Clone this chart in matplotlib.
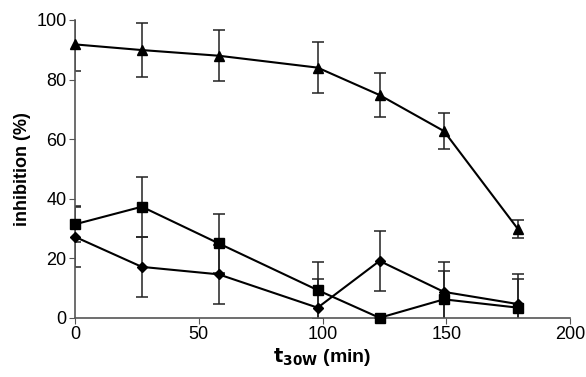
import matplotlib
matplotlib.use("Agg")
import matplotlib.pyplot as plt

plt.rcParams['font.family'] = ['Liberation Sans', 'DejaVu Sans']

# time points (min)
t = [0, 27, 58, 98, 123, 149, 179]

# triangles
tri = [91.8, 89.9, 88.0, 84.0, 74.8, 62.7, 29.7]
tri_err = [9, 9, 8.5, 8.5, 7.5, 6, 3]

# squares
sq = [31.4, 37.3, 25.0, 9.3, 0.0, 6.2, 3.4]
sq_err = [6, 10, 10, 9.6, 0, 9.6, 9.5]

# diamonds
dia = [27.2, 17.1, 14.6, 3.4, 19.1, 8.7, 4.6]
dia_err = [10, 10, 10, 9.5, 10, 10, 10]

fig = plt.figure(figsize=(5.86, 3.77), dpi=100)
ax = fig.add_axes([0.128, 0.157, 0.845, 0.79])

for y, e, m, ms in [(tri, tri_err, '^', 7.5), (sq, sq_err, 's', 7.5), (dia, dia_err, 'D', 5)]:
    # error bars are clipped at the axes, markers are not
    ax.errorbar(t, y, yerr=e, fmt='none', ecolor='#222222', elinewidth=1.1,
                capsize=4, capthick=1.1)
    ax.plot(t, y, color='black', lw=1.5, marker=m, ms=ms, clip_on=False, zorder=3)

ax.set_xlim(0, 200)
ax.set_ylim(0, 100)
ax.set_xticks([0, 50, 100, 150, 200])
ax.set_yticks([0, 20, 40, 60, 80, 100])
for s in ['top', 'right']:
    ax.spines[s].set_visible(False)
for s in ['left', 'bottom']:
    ax.spines[s].set_color('#555555')
    ax.spines[s].set_linewidth(1.2)
ax.tick_params(direction='out', length=4, color='#555555', labelsize=13, pad=2)

ax.set_ylabel('inhibition (%)', fontsize=13, fontweight='bold')
ax.set_xlabel(r'$\mathbf{t_{30W}}$ (min)', fontsize=14, fontweight='bold', labelpad=2)

fig.savefig('out.png', dpi=100)
